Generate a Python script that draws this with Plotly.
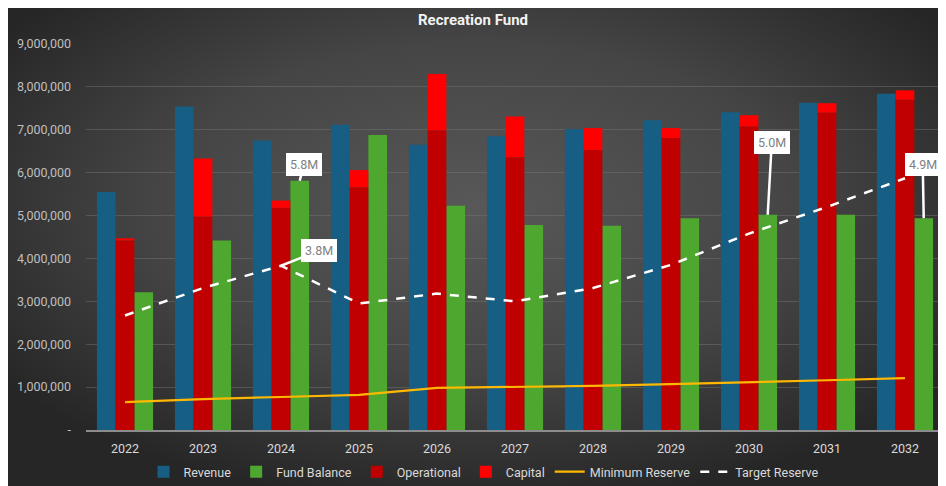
import base64
import plotly.graph_objects as go

years = ["2022", "2023", "2024", "2025", "2026", "2027", "2028", "2029", "2030", "2031", "2032"]
revenue = [5.55e6, 7.54e6, 6.75e6, 7.12e6, 6.65e6, 6.85e6, 7.02e6, 7.22e6, 7.41e6, 7.63e6, 7.84e6]
fund_balance = [3.21e6, 4.42e6, 5.81e6, 6.88e6, 5.23e6, 4.78e6, 4.76e6, 4.94e6, 5.02e6, 5.02e6, 4.94e6]
operational = [4.42e6, 4.98e6, 5.18e6, 5.66e6, 6.99e6, 6.36e6, 6.53e6, 6.81e6, 7.08e6, 7.40e6, 7.70e6]
capital = [0.05e6, 1.35e6, 0.17e6, 0.40e6, 1.31e6, 0.95e6, 0.51e6, 0.23e6, 0.26e6, 0.22e6, 0.22e6]
minimum_reserve = [0.65e6, 0.72e6, 0.77e6, 0.82e6, 0.98e6, 1.00e6, 1.03e6, 1.07e6, 1.11e6, 1.16e6, 1.21e6]
target_reserve = [2.67e6, 3.31e6, 3.83e6, 2.95e6, 3.18e6, 3.00e6, 3.31e6, 3.85e6, 4.58e6, 5.20e6, 5.87e6]
ytick_vals = [0, 1e6, 2e6, 3e6, 4e6, 5e6, 6e6, 7e6, 8e6, 9e6]
ytick_text = ["-", "1,000,000", "2,000,000", "3,000,000", "4,000,000", "5,000,000",
              "6,000,000", "7,000,000", "8,000,000", "9,000,000"]

# page has an 8px body margin; figure is placed at (8, 8)
W, H = 938, 478
L, R, T, B = 78, 2, 36, 56
pw, ph = W - L - R, H - T - B

svg = (
    '<svg xmlns="http://www.w3.org/2000/svg" width="940" height="482" viewBox="0 0 940 482" preserveAspectRatio="none">'
    '<defs><radialGradient id="g" cx="50%" cy="42%" r="62%" gradientUnits="objectBoundingBox">'
    '<stop offset="0%" stop-color="#585858"/><stop offset="55%" stop-color="#454545"/>'
    '<stop offset="100%" stop-color="#262626"/></radialGradient></defs>'
    '<rect width="940" height="482" fill="url(#g)"/></svg>'
)
src = "data:image/svg+xml;base64," + base64.b64encode(svg.encode()).decode()

bw = 0.24
fig = go.Figure()
fig.add_trace(go.Bar(x=years, y=revenue, name="Revenue", marker_color="#175E84",
                     width=bw, offset=-0.36, marker_line_width=0))
fig.add_trace(go.Bar(x=years, y=fund_balance, name="Fund Balance", marker_color="#4EA72E",
                     width=bw, offset=0.12, marker_line_width=0))
fig.add_trace(go.Bar(x=years, y=operational, name="Operational", marker_color="#C00000",
                     width=bw, offset=-0.12, marker_line_width=0))
fig.add_trace(go.Bar(x=years, y=capital, base=operational, name="Capital", marker_color="#FF0000",
                     width=bw, offset=-0.12, marker_line_width=0))
fig.add_trace(go.Scatter(x=years, y=minimum_reserve, name="Minimum Reserve", mode="lines",
                         line=dict(color="#FFB800", width=2.2)))
fig.add_trace(go.Scatter(x=years, y=target_reserve, name="Target Reserve", mode="lines",
                         line=dict(color="#FFFFFF", width=2.5, dash="dash")))

def callout(year, yval, ax, ay, xoff=0.0):
    idx = years.index(year)
    fig.add_annotation(x=idx + xoff, y=yval, xref="x", yref="y", text=f"{yval/1e6:.1f}M",
                       showarrow=True, arrowhead=0, arrowwidth=2.5, arrowcolor="#FFFFFF",
                       ax=ax, ay=ay, bgcolor="#FFFFFF", borderpad=3,
                       bordercolor="#FFFFFF", borderwidth=1,
                       font=dict(family="Roboto, Arial", size=12.5, color="#7F7F7F"))

callout("2024", fund_balance[2], 4, -16, xoff=0.24)
callout("2024", target_reserve[2], 38, -15)
callout("2030", fund_balance[8], 4, -72, xoff=0.24)
callout("2032", fund_balance[10], -1, -54, xoff=0.24)

fig.update_layout(
    width=W, height=H,
    margin=dict(l=L, r=R, t=T, b=B, autoexpand=False),
    paper_bgcolor="#FFFFFF",
    plot_bgcolor="rgba(0,0,0,0)",
    barmode="overlay",
    showlegend=True,
    title=dict(text="<b>Recreation Fund</b>", x=(473 - 8) / W, xanchor="center", y=1 - 12 / H, yanchor="middle",
               font=dict(family="Liberation Sans Narrow, Roboto, Arial", size=15, color="#F2F2F2")),
    legend=dict(orientation="h", x=(476 - L) / pw, xanchor="center", y=(T + ph - 464) / ph, yanchor="middle",
                font=dict(family="Liberation Sans Narrow, Roboto, Arial", size=12.5, color="#D9D9D9"),
                bgcolor="rgba(0,0,0,0)", itemwidth=30, tracegroupgap=0),
    images=[dict(source=src, xref="paper", yref="paper", x=(-2 - L) / pw, y=(T + ph + 4) / ph,
                 sizex=942 / pw, sizey=484 / ph, xanchor="left", yanchor="top",
                 sizing="stretch", layer="below")],
    xaxis=dict(type="category", range=[-0.5, len(years) - 0.5], showgrid=False, showline=True,
               linecolor="#8C8C8C", linewidth=1.5,
               ticks="", tickfont=dict(family="Roboto, Arial", size=12.5, color="#D9D9D9"),
               ticklabelstandoff=6, zeroline=False),
    yaxis=dict(range=[0, 9e6], tickvals=ytick_vals, ticktext=ytick_text, showgrid=True,
               gridcolor="rgba(120,120,120,0.45)", gridwidth=1, zeroline=False, showline=False,
               tickfont=dict(family="Roboto, Arial", size=12.5, color="#BFBFBF"),
               ticklabelstandoff=14),
)

fig.write_html("out.html")
